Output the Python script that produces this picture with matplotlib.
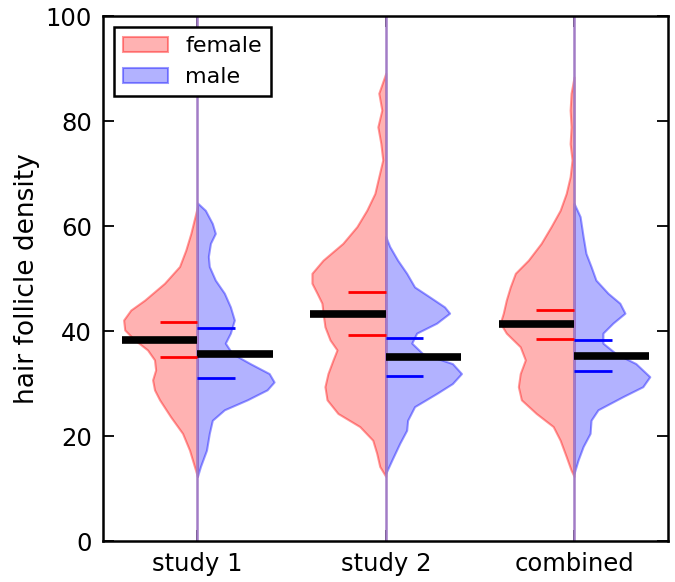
import numpy as np
import matplotlib
matplotlib.use("Agg")
import matplotlib.pyplot as plt
from matplotlib.patches import Patch

# groups on the x axis
groups = ["study 1", "study 2", "combined"]

# half-violin outlines: density value, half width (x units)
f1_y = [63.7, 58.6, 55.4, 52.3, 49.1, 45.9, 44.0, 42.1, 40.2, 38.3, 36.4, 34.5,
        32.6, 30.7, 28.8, 26.9, 23.7, 20.5, 17.3, 14.2, 12.3]
f1_w = [0.0, 0.035, 0.062, 0.095, 0.175, 0.280, 0.354, 0.392, 0.386, 0.333, 0.265,
        0.228, 0.222, 0.238, 0.228, 0.201, 0.143, 0.079, 0.042, 0.016, 0.0]
m1_y = [64.4, 63.0, 60.5, 58.6, 56.7, 54.2, 52.3, 49.7, 47.2, 44.6, 42.1, 39.6,
        37.7, 35.7, 33.8, 31.9, 30.3, 28.8, 26.9, 25.0, 23.0, 20.5, 17.3, 14.2, 12.3]
m1_w = [0.0, 0.042, 0.079, 0.095, 0.069, 0.058, 0.063, 0.095, 0.143, 0.175, 0.196,
        0.175, 0.148, 0.185, 0.280, 0.381, 0.407, 0.370, 0.265, 0.143, 0.079, 0.063,
        0.048, 0.016, 0.0]

f2_y = [89.1, 85.3, 82.1, 78.9, 75.7, 72.6, 69.4, 66.2, 63.0, 59.9, 56.7, 53.5, 51.0,
        49.1, 47.2, 45.3, 43.4, 40.8, 38.3, 36.4, 34.5, 31.9, 29.4, 26.9, 24.3, 21.8,
        19.2, 16.7, 14.2, 12.3]
f2_w = [0.0, 0.037, 0.021, 0.042, 0.026, 0.016, 0.037, 0.058, 0.101, 0.153, 0.228,
        0.333, 0.392, 0.392, 0.365, 0.339, 0.333, 0.323, 0.296, 0.259, 0.280, 0.307,
        0.323, 0.312, 0.254, 0.138, 0.069, 0.048, 0.032, 0.0]
m2_y = [58.0, 56.1, 53.5, 51.0, 48.4, 46.5, 44.6, 43.4, 41.5, 39.6, 37.7, 35.7, 33.8,
        31.9, 30.0, 28.1, 25.6, 23.0, 21.1, 18.6, 15.4, 12.9]
m2_w = [0.0, 0.021, 0.063, 0.111, 0.153, 0.233, 0.312, 0.339, 0.270, 0.164, 0.138,
        0.196, 0.354, 0.402, 0.354, 0.270, 0.153, 0.116, 0.111, 0.074, 0.032, 0.0]

fc_y = [88.4, 85.3, 82.1, 78.9, 75.7, 72.6, 69.4, 66.2, 63.0, 59.9, 56.7, 53.5, 51.0,
        48.4, 45.9, 43.4, 41.5, 39.6, 37.0, 34.5, 31.9, 29.4, 26.9, 24.3, 21.8, 19.2,
        16.1, 13.5, 12.3]
fc_w = [0.0, 0.016, 0.021, 0.016, 0.021, 0.011, 0.021, 0.042, 0.074, 0.122, 0.175,
        0.243, 0.312, 0.339, 0.360, 0.376, 0.392, 0.360, 0.286, 0.259, 0.286, 0.296,
        0.280, 0.201, 0.111, 0.074, 0.042, 0.016, 0.0]
mc_y = [64.3, 61.8, 58.0, 54.8, 52.3, 49.7, 47.2, 45.3, 43.4, 41.5, 39.6, 37.7, 35.7,
        33.8, 31.3, 29.4, 27.5, 25.0, 23.0, 20.5, 18.0, 15.4, 12.9]
mc_w = [0.0, 0.032, 0.048, 0.063, 0.090, 0.116, 0.180, 0.243, 0.270, 0.206, 0.153,
        0.153, 0.222, 0.328, 0.402, 0.365, 0.259, 0.127, 0.090, 0.085, 0.048, 0.021, 0.0]

# means and quartile marks
female_mean = [38.3, 43.2, 41.4]
male_mean = [35.7, 35.0, 35.3]
female_q1 = [35.0, 39.2, 38.5]
female_q3 = [41.7, 47.4, 44.1]
male_q1 = [31.0, 31.4, 32.4]
male_q3 = [40.6, 38.7, 38.2]

female_shapes = [(f1_y, f1_w), (f2_y, f2_w), (fc_y, fc_w)]
male_shapes = [(m1_y, m1_w), (m2_y, m2_w), (mc_y, mc_w)]

fig = plt.figure(figsize=(6.75, 5.82), dpi=100)
ax = fig.add_axes([0.153, 0.0704, 0.837, 0.902])

red_face = (1, 0, 0, 0.3)
red_edge = (1, 0, 0, 0.4)
blue_face = (0, 0, 1, 0.3)
blue_edge = (0, 0, 1, 0.4)

for i in range(len(groups)):
    pos = i + 1
    fy, fw = female_shapes[i]
    my, mw = male_shapes[i]
    ax.fill_betweenx(fy, pos - np.array(fw), pos, facecolor=red_face,
                     edgecolor=red_edge, linewidth=1.5)
    ax.fill_betweenx(my, pos, pos + np.array(mw), facecolor=blue_face,
                     edgecolor=blue_edge, linewidth=1.5)
    # center line sits under the axis ticks
    ax.axvline(pos, color="#a27cc6", lw=1.8, zorder=2.2)
    ax.plot([pos - 0.4, pos], [female_mean[i]] * 2, color="k", lw=5.5,
            solid_capstyle="butt", zorder=4)
    ax.plot([pos, pos + 0.4], [male_mean[i]] * 2, color="k", lw=5.5,
            solid_capstyle="butt", zorder=4)
    for q in (female_q1[i], female_q3[i]):
        ax.plot([pos - 0.2, pos], [q, q], color="red", lw=2,
                solid_capstyle="butt", zorder=4)
    for q in (male_q1[i], male_q3[i]):
        ax.plot([pos, pos + 0.2], [q, q], color="blue", lw=2,
                solid_capstyle="butt", zorder=4)

ax.set_xlim(0.5, 3.5)
ax.set_ylim(0, 100)
ax.set_xticks([1, 2, 3])
ax.set_xticklabels(groups)
ax.set_yticks([0, 20, 40, 60, 80, 100])
ax.tick_params(direction="in", top=True, right=True, length=8, width=1.3,
               labelsize=17.5, pad=8)
for sp in ax.spines.values():
    sp.set_linewidth(1.8)
ax.set_ylabel("hair follicle density", fontsize=19)

handles = [Patch(facecolor=red_face, edgecolor=red_edge, lw=1.5, label="female"),
           Patch(facecolor=blue_face, edgecolor=blue_edge, lw=1.5, label="male")]
leg = ax.legend(handles=handles, loc="upper left", fontsize=16, fancybox=False,
                framealpha=1, edgecolor="k", handlelength=2.0)
leg.get_frame().set_linewidth(1.8)

fig.savefig("out.png", dpi=100)
